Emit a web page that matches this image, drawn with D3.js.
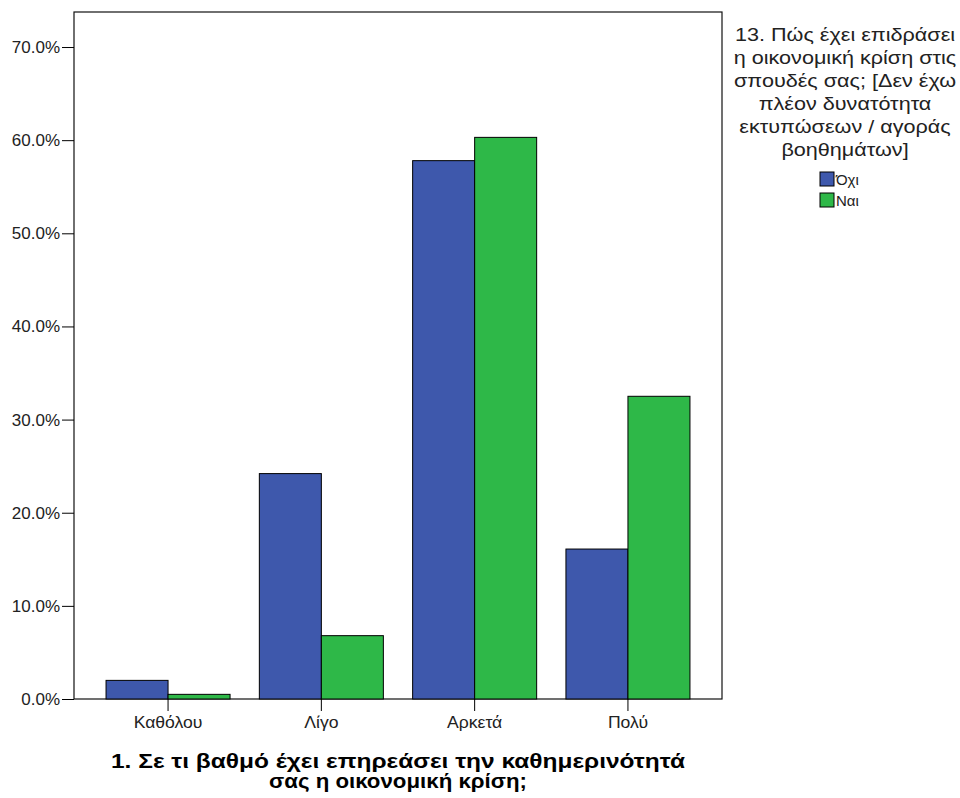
<!DOCTYPE html>
<html><head><meta charset="utf-8">
<script src="https://cdn.jsdelivr.net/npm/d3@7"></script>
<style>body{margin:0;background:#fff}svg{display:block}text{font-family:"Liberation Sans",Arial,sans-serif}</style>
</head><body><svg id="c" width="960" height="798"></svg>
<script>
const categories = ["Καθόλου","Λίγο","Αρκετά","Πολύ"];
const seriesNames = ["Όχι","Ναι"];
const valuesOxi = [2.0, 24.2, 57.8, 16.1];
const valuesNai = [0.5, 6.8, 60.3, 32.5];
const yTicks = [0,10,20,30,40,50,60,70];
const colors = ["#3e58ac","#2eb848"];
const legendTitle = ["13. Πώς έχει επιδράσει","η οικονομική κρίση στις","σπουδές σας; [Δεν έχω","πλέον δυνατότητα","εκτυπώσεων / αγοράς","βοηθημάτων]"];
const xTitle = ["1. Σε τι βαθμό έχει επηρεάσει την καθημερινότητά","σας η οικονομική κρίση;"];

const svg = d3.select("#c");
const L=74, R=722, T=12, B=699;
const x = d3.scaleBand().domain(categories).range([L,R]).paddingInner(0.191).paddingOuter(0.209);
const xs = d3.scaleBand().domain(seriesNames).range([0,x.bandwidth()]);
const y = d3.scaleLinear().domain([0,70]).range([B, B-7*93.14]);

// frame
svg.append("rect").attr("x",L).attr("y",T).attr("width",R-L).attr("height",B-T).attr("fill","none").attr("stroke","#111").attr("stroke-width",1.2);

const series = [valuesOxi, valuesNai];
series.forEach((vals,si)=>{
  svg.append("g").selectAll("rect").data(categories).join("rect")
    .attr("x",d=>x(d)+xs(seriesNames[si]))
    .attr("y",(d,i)=>y(vals[i]))
    .attr("width",xs.bandwidth())
    .attr("height",(d,i)=>B-y(vals[i]))
    .attr("fill",colors[si]).attr("stroke","#000").attr("stroke-width",1);
});

// y axis
const ya = svg.append("g").attr("transform",`translate(${L},0)`)
  .call(d3.axisLeft(y).tickValues(yTicks).tickSize(12).tickFormat(d=>d.toFixed(1)+"%"));
ya.select(".domain").remove();
ya.selectAll("line").attr("stroke","#000");
ya.selectAll("text").attr("font-size",17).attr("fill","#222").attr("x",-14).attr("font-family","Liberation Sans, Arial, sans-serif");

// x axis
const xa = svg.append("g").attr("transform",`translate(0,${B})`)
  .call(d3.axisBottom(x).tickSize(12).tickPadding(6));
xa.select(".domain").remove();
xa.selectAll("line").attr("stroke","#000");
xa.selectAll("text").attr("font-size",16).attr("fill","#222").attr("font-family","Liberation Sans, Arial, sans-serif")
  .attr("transform","scale(1.1,1)");

// x title
svg.append("g").selectAll("text").data(xTitle).join("text")
  .attr("x",398).attr("y",(d,i)=>768+i*20).attr("text-anchor","middle")
  .attr("font-size",20).attr("font-weight","bold").attr("fill","#000")
  .attr("textLength",(d,i)=>i===0?574:258).attr("lengthAdjust","spacingAndGlyphs")
  .text(d=>d);

// legend
svg.append("g").attr("transform","translate(845,0) scale(1.2,1)")
  .selectAll("text").data(legendTitle).join("text")
  .attr("x",0).attr("y",(d,i)=>41+i*23).attr("text-anchor","middle")
  .attr("font-size",18).attr("fill","#222").text(d=>d);
const lg = svg.append("g").selectAll("g").data(seriesNames).join("g")
  .attr("transform",(d,i)=>`translate(820,${172+i*21})`);
lg.append("rect").attr("width",14).attr("height",14).attr("fill",(d,i)=>colors[i]).attr("stroke","#000");
lg.append("text").attr("x",16).attr("y",13).attr("font-size",15).attr("fill","#222").text(d=>d);
</script></body></html>
